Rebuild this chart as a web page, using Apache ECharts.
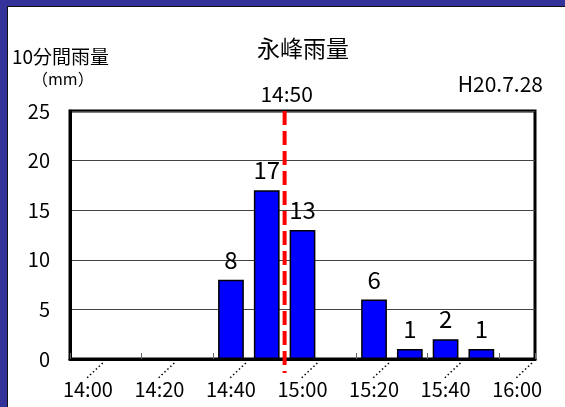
<!DOCTYPE html>
<html><head><meta charset="utf-8">
<script src="https://cdn.jsdelivr.net/npm/echarts@6/dist/echarts.min.js"></script>
<style>html,body{margin:0;padding:0;background:#fff}#c{width:565px;height:407px}</style>
</head><body><div id="c"></div>
<script>
const categories = ['14:00','14:10','14:20','14:30','14:40','14:50','15:00','15:10','15:20','15:30','15:40','15:50','16:00'];
const rainfall = [0, 0, 0, 0, 8, 17, 13, 0, 6, 1, 2, 1, null];
const yTicks = [0, 5, 10, 15, 20, 25];
const markerTime = '14:50';
const titleText = '永峰雨量';
const yName1 = '10分間雨量';
const yName2 = '（mm）';
const dateText = 'H20.7.28';

const FONT = '"Noto Sans CJK JP", "Noto Sans", sans-serif';
const chart = echarts.init(document.getElementById('c'), null, {renderer: 'canvas'});
const labelIdx = categories.map((c, i) => i).filter(i => i % 2 === 0);
const markerIdx = categories.indexOf(markerTime);

chart.setOption({
  backgroundColor: '#ffffff',
  animation: false,
  title: {
    text: titleText, left: 298, top: 32, textAlign: 'center',
    textStyle: {fontFamily: FONT, fontSize: 23, fontWeight: 'normal', color: '#000'}
  },
  graphic: [
    {type: 'rect', shape: {x: 0, y: 0, width: 565, height: 6}, style: {fill: '#333399'}},
    {type: 'rect', shape: {x: 0, y: 0, width: 7, height: 407}, style: {fill: '#333399'}},
    {type: 'line', shape: {x1: 7, y1: 6.5, x2: 565, y2: 6.5}, style: {stroke: '#111', lineWidth: 1}},
    {type: 'line', shape: {x1: 7.5, y1: 6, x2: 7.5, y2: 407}, style: {stroke: '#111', lineWidth: 1}},
    {type: 'text', x: 12, y: 57, style: {text: yName1, fontFamily: FONT, fontSize: 19, fill: '#000', verticalAlign: 'middle'}},
    {type: 'text', x: 32, y: 79, style: {text: yName2, fontFamily: FONT, fontSize: 16, fill: '#000', verticalAlign: 'middle'}},
    {type: 'text', x: 543, y: 84, style: {text: dateText, fontFamily: FONT, fontSize: 21, fill: '#000', align: 'right', verticalAlign: 'middle'}}
  ],
  grid: {left: 70, right: 30, top: 111, bottom: 48, show: true, borderColor: '#000', borderWidth: 3, backgroundColor: 'transparent'},
  xAxis: {
    type: 'category', data: categories, boundaryGap: true,
    axisLine: {lineStyle: {color: '#000', width: 3}},
    axisTick: {show: true, inside: true, length: 6, lineStyle: {color: '#666', width: 1}},
    axisLabel: {interval: 1, margin: 20, fontFamily: FONT, fontSize: 20, color: '#000'}
  },
  yAxis: {
    type: 'value', min: yTicks[0], max: yTicks[yTicks.length - 1], interval: 5,
    axisLine: {show: true, lineStyle: {color: '#000', width: 3}},
    axisTick: {show: false},
    splitLine: {lineStyle: {color: '#444', width: 1}},
    axisLabel: {margin: 20, fontFamily: FONT, fontSize: 20, color: '#000'}
  },
  series: [
    {
      type: 'bar', data: rainfall, barWidth: '72%', z: 3,
      itemStyle: {color: '#0000FF', borderColor: '#000', borderWidth: 1.5},
      label: {
        show: true, position: 'top', distance: 8, fontFamily: FONT, fontSize: 24, color: '#000',
        formatter: p => (p.value ? String(p.value) : '')
      }
    },
    {
      type: 'custom', clip: false, z: 4, silent: true,
      data: labelIdx.map(i => [i]),
      renderItem: function (params, api) {
        const c = api.coord([api.value(0), 0]);
        const w = api.size([1, 0])[0];
        return {
          type: 'line',
          shape: {x1: c[0] + w / 2 - 3, y1: c[1] + 4, x2: c[0] - 1, y2: c[1] + 19},
          style: {stroke: '#000', lineWidth: 1.6, lineDash: [1.5, 2.5]}
        };
      }
    },
    {
      type: 'custom', clip: false, z: 5, silent: true,
      data: [[markerIdx]],
      renderItem: function (params, api) {
        const top = api.coord([api.value(0), yTicks[yTicks.length - 1]]);
        const bot = api.coord([api.value(0), 0]);
        const x = top[0] + api.size([1, 0])[0] / 2;
        return {
          type: 'group',
          children: [
            {type: 'line', shape: {x1: x, y1: top[1], x2: x, y2: bot[1] + 14},
             style: {stroke: '#FF0000', lineWidth: 4, lineDash: [14, 6]}},
            {type: 'text', x: x + 2, y: top[1] - 17,
             style: {text: markerTime, fontFamily: FONT, fontSize: 21, fill: '#000', align: 'center', verticalAlign: 'middle'}}
          ]
        };
      }
    }
  ]
});
</script></body></html>
